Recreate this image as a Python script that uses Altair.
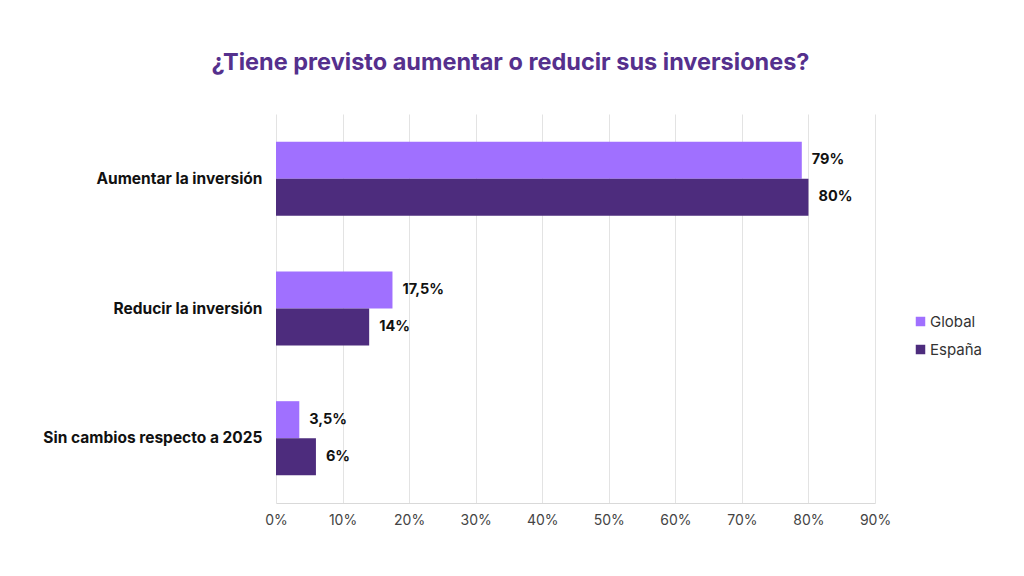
import altair as alt
import pandas as pd

categories = ["Aumentar la inversión", "Reducir la inversión", "Sin cambios respecto a 2025"]
series = ["Global", "España"]
global_vals = [79, 17.5, 3.5]
espana_vals = [80, 14, 6]
colors = ["#A070FF", "#4D2C7D"]
x_ticks = [0, 10, 20, 30, 40, 50, 60, 70, 80, 90]

rows = []
for c, g, e in zip(categories, global_vals, espana_vals):
    for s, v in (("Global", g), ("España", e)):
        lab = (f"{v:g}".replace(".", ",")) + "%"
        rows.append({"cat": c, "serie": s, "val": v, "lab": lab})
df = pd.DataFrame(rows)

FONT = "Inter"

y_enc = alt.Y("cat:N", sort=categories, title=None,
              scale=alt.Scale(paddingInner=0.43, paddingOuter=0.215),
              axis=alt.Axis(labelFont=FONT, labelFontSize=15.5, labelFontWeight="bold",
                            labelColor="#111111", ticks=False, domain=False,
                            labelPadding=14, grid=False, labelLimit=0))
yoff = alt.YOffset("serie:N", sort=series)
x_enc = alt.X("val:Q", title=None,
              scale=alt.Scale(domain=[0, 90], nice=False),
              axis=alt.Axis(values=x_ticks, labelExpr="datum.value + '%'",
                            labelFont=FONT, labelFontSize=14, labelColor="#444444",
                            ticks=False, domainColor="#d9d9d9", gridColor="#e3e3e3",
                            labelPadding=10, labelFlush=False))

bars = alt.Chart(df).mark_bar(size=37).encode(
    x=x_enc, y=y_enc, yOffset=yoff,
    color=alt.Color("serie:N", sort=series,
                    scale=alt.Scale(domain=series, range=colors),
                    legend=alt.Legend(title=None, orient="none", legendX=637, legendY=200,
                                      symbolType="square", symbolSize=90,
                                      labelFont=FONT, labelFontSize=15, labelColor="#333333",
                                      rowPadding=12, symbolStrokeWidth=0, labelOffset=2)),
)

texts = alt.Chart(df).mark_text(align="left", baseline="middle", dx=10,
                                font=FONT, fontSize=14.5, fontWeight="bold",
                                color="#111111").encode(
    x="val:Q", y=alt.Y("cat:N", sort=categories), yOffset=yoff, text="lab:N")

chart = (bars + texts).properties(
    width=599, height=389,
    title=alt.TitleParams("¿Tiene previsto aumentar o reducir sus inversiones?",
                          font=FONT, fontSize=23.5, fontWeight="bold", color="#55308D",
                          anchor="middle", dx=-65, offset=40),
    autosize=alt.AutoSizeParams(type="none"),
    padding={"left": 268, "top": 106, "right": 141, "bottom": 65},
).configure_view(stroke=None)

chart.save("out.html", embed_options={"renderer": "svg", "actions": False})
